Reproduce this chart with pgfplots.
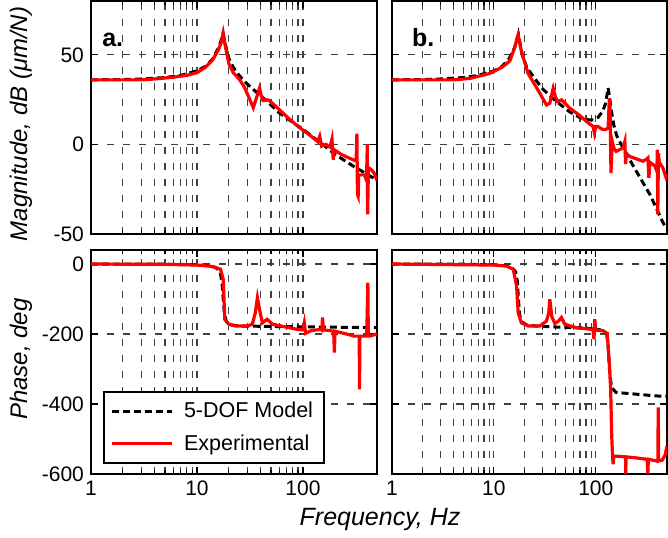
\documentclass[border=0pt]{standalone}
\usepackage{fontspec}
\setmainfont{Liberation Sans}
\usepackage{pgfplots}
\pgfplotsset{compat=1.18}

% 1 px of the reference = 0.5pt
\pgfplotsset{
  every axis/.append style={
    scale only axis,
    xmin=1, xmax=500,
    xtick={1,10,100},
    xmajorgrids, xminorgrids, ymajorgrids,
    major grid style={black!75, line width=0.6pt, dash pattern=on 3.5pt off 4.5pt},
    minor grid style={black!75, line width=0.6pt, dash pattern=on 3.5pt off 4.5pt},
    axis line style={line width=0.8pt},
    tick style={black, line width=0.6pt},
    tick align=inside,
    major tick length=3.5pt, minor tick length=2pt,
    ticklabel style={font=\fontsize{10.5}{12}\selectfont},
  },
  magAx/.style={width=143pt, height=116.5pt, ymin=-50, ymax=80,
    ytick={-50,0,50}, xticklabels={}},
  phsAx/.style={width=143pt, height=112pt, ymin=-600, ymax=40,
    ytick={-600,-400,-200,0}, xticklabels={1,10,100}},
  modelLine/.style={black, line width=1.5pt, dash pattern=on 3.5pt off 2pt},
  exptLine/.style={red, line width=1.6pt},
}
\tikzset{panelLbl/.style={font=\bfseries\fontsize{12.5}{14}\selectfont, anchor=base west, inner sep=0pt}}

\begin{document}
\begin{tikzpicture}
\path[use as bounding box] (-45.5pt,0.5pt) rectangle (288.5pt,-268pt);

% ---- magnitude, a.
\begin{semilogxaxis}[magAx, at={(0pt,0pt)}, anchor=north west,
  yticklabels={-50,0,50}]
\addplot[modelLine] coordinates {(1,36) (2,36.2) (3,36.5) (5,37.3) (7,38.5) (10,41) (12,43.5) (14,47.5) (16,54) (17,58.5) (17.6,62) (18.5,56) (20,48) (22,43) (25,38.5) (30,33.5) (40,27) (46,24) (60,17.5) (86,11) (100,8.5) (128,3.5) (150,0.5) (200,-5.5) (300,-12.2) (400,-16.5) (500,-20)};
\addplot[exptLine] coordinates {(1,36) (3,36) (4,36.5) (6,37.5) (8,38.5) (10,40) (12,43) (14,47) (16,53) (17,57) (17.7,62) (18.5,55) (20,45) (22,40) (25,36.5) (28,32) (31,26) (34,20.5) (36,25) (39,31.5) (40,28) (42,24.5) (45,25) (48,24.5) (55,21.5) (62,18.5) (75,14) (92,9.5) (100,8) (120,4.5) (138,1.5) (144,4.5) (150,-1) (165,0) (180,-1.5) (188,3) (193,-8.5) (198,-3) (229,-5.5) (270,-7.5) (310,-9) (318,-9) (323,6) (327,-28) (332,-29) (336,-17) (355,-17) (380,-17) (398,-20) (405,0) (408,-39) (415,-13) (440,-14) (470,-16) (500,-20)};
\node[panelLbl] at (rel axis cs:0.038,0.806) {a.};
\end{semilogxaxis}

% ---- magnitude, b.
\begin{semilogxaxis}[magAx, width=137.5pt, at={(150.5pt,0pt)}, anchor=north west,
  yticklabels={}]
\addplot[modelLine] coordinates {(1,36) (2,36.2) (3,36.5) (5,37.3) (7,38.5) (10,41) (12,43.5) (14,47.5) (16,54) (16.8,58) (17.4,61.5) (18,57) (19,50) (21,43) (25,37) (30,31) (41,24) (55,18.3) (70,15) (85,13.7) (95,13.7) (105,15) (117,18.5) (125,23) (132,31.5) (136,27) (142,19) (150,11) (160,5) (185,-2) (250,-15) (340,-28) (460,-44) (500,-47)};
\addplot[exptLine] coordinates {(1,36) (4,36) (5.8,36.8) (9,39.5) (12,43) (14.3,46.5) (16,54) (16.8,59) (17.3,61) (18,56) (18.7,51.5) (21.7,39.5) (27.3,30) (32.8,22) (35.4,23) (38.2,31.3) (40,27) (41.9,24) (46.3,24.8) (55.7,20.2) (70,16) (81,12.8) (94,10) (97,6.3) (100,10) (105,10) (115,8.5) (123,8.2) (132,9) (136,25.7) (138,20) (141,-16) (145,1.7) (150,-2) (158,-3.9) (185,-2) (193,1.7) (196,-11) (200,-5) (215,-6.7) (290,-9.4) (320,-8) (325,-7.6) (332,-18.7) (340,-10) (380,-12) (398,-15) (402,-3) (406,-39) (412,-5) (420,-10) (455,-13) (500,-20)};
\node[panelLbl] at (rel axis cs:0.072,0.806) {b.};
\end{semilogxaxis}

% ---- phase, a.
\begin{semilogxaxis}[phsAx, at={(0pt,-124.5pt)}, anchor=north west,
  yticklabels={-600,-400,-200,0},
  legend cell align=left,
  legend image code/.code={\draw[#1] (0pt,0pt) -- (30pt,0pt);},
  legend style={at={(0.042,0.045)}, anchor=south west, draw=black,
    line width=0.8pt, font=\fontsize{10.75}{13}\selectfont,
    inner xsep=3.5pt, inner ysep=3pt, row sep=3pt,
    /tikz/every odd column/.append style={column sep=3pt}}]
\addplot[modelLine] coordinates {(1,0) (5,-0.5) (10,-2) (13,-5) (15,-10) (16.5,-22) (17.2,-50) (17.7,-100) (18.2,-145) (19,-165) (21,-174) (25,-177) (40,-178) (100,-179.5) (500,-182)};
\addlegendentry{5-DOF Model}
\addplot[exptLine] coordinates {(1,0) (5,-1) (10,-3) (13,-6) (14.4,-8) (16.7,-15) (17.7,-44) (18,-101) (18.3,-158) (20,-172) (23,-177) (30,-177) (33.3,-172) (35.5,-140) (37.2,-96) (39.5,-139) (41.5,-168) (44,-162) (46,-158) (51.5,-172) (62,-177) (89,-187) (100,-188) (103,-168) (106,-198) (120,-190) (148,-187) (151,-189) (153,-153) (156,-188) (195,-192) (198,-253) (201,-192) (266,-201) (304,-206) (340,-206) (342,-358) (345,-206) (400,-206) (410,-53) (414,-206) (425,-206) (500,-200)};
\addlegendentry{Experimental}
\end{semilogxaxis}

% ---- phase, b.
\begin{semilogxaxis}[phsAx, width=137.5pt, at={(150.5pt,-124.5pt)}, anchor=north west,
  yticklabels={}]
\addplot[modelLine] coordinates {(1,0) (5,-0.5) (10,-2) (13,-5) (15,-10) (16.3,-22) (17,-50) (17.4,-100) (17.9,-145) (18.7,-165) (21,-174) (25,-177) (40,-180) (80,-183) (110,-188) (122,-192) (128,-200) (132,-234) (137,-310) (143,-353) (158,-367) (251,-372) (395,-377) (500,-378)};
\addplot[exptLine] coordinates {(1,0) (10,-3) (13.3,-6) (15.5,-15) (16.7,-63) (17.3,-139) (18.6,-168) (21.7,-177) (28.3,-177) (32.8,-163) (34.5,-140) (35.4,-101) (37,-150) (39.7,-170) (43,-163) (46,-153) (49.6,-172) (64.5,-182) (94,-187) (96,-215) (97.8,-158) (100,-189) (118,-191) (129.5,-198) (135.6,-282) (140,-358) (143,-482) (146,-549) (148,-572) (150,-549) (158,-549) (196,-551) (197,-601) (198,-551) (250,-554) (320,-558) (324,-601) (328,-558) (400,-563) (407,-563) (410,-410) (414,-563) (450,-560) (480,-545) (500,-520)};
\end{semilogxaxis}

\node[rotate=90, font=\itshape\fontsize{12}{14}\selectfont] at (-35pt,-61.5pt) {Magnitude, dB (μm/N)};
\node[rotate=90, font=\itshape\fontsize{12}{14}\selectfont] at (-35pt,-179pt) {Phase, deg};
\node[font=\itshape\fontsize{12.5}{14}\selectfont] at (144.5pt,-259pt) {Frequency, Hz};
\end{tikzpicture}
\end{document}
